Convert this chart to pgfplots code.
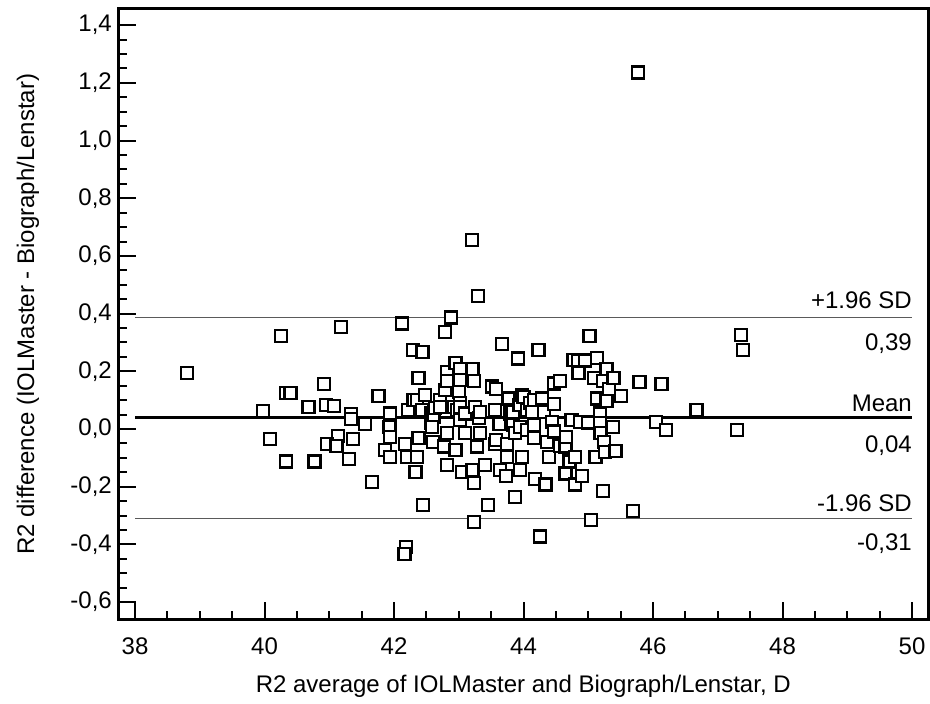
\documentclass[border=0pt]{standalone}
\usepackage{fontspec}
\setmainfont{Liberation Sans}
\usepackage{pgfplots}
\pgfplotsset{compat=1.18}
\definecolor{sdgray}{RGB}{90,90,90}

\pgfplotstableread{
x y
38.80 0.195
39.98 0.063
40.08 -0.034
40.25 0.323
40.33 -0.113
40.33 0.126
40.40 0.126
40.68 0.077
40.77 -0.113
40.92 0.156
40.95 0.084
41.07 0.080
41.13 -0.024
40.97 -0.053
41.11 -0.058
41.18 0.354
41.31 -0.105
41.34 0.051
41.34 0.034
41.37 -0.034
41.55 0.017
41.66 -0.183
41.76 0.114
41.86 -0.073
41.93 0.008
41.94 0.054
41.94 -0.027
41.94 -0.096
42.12 0.366
42.17 -0.052
42.20 -0.096
42.22 0.066
42.29 0.274
42.30 0.100
42.33 -0.148
42.36 0.100
42.36 -0.096
42.38 0.176
42.38 -0.032
42.43 0.066
42.44 0.266
42.45 -0.263
42.48 0.118
42.19 -0.408
42.16 -0.433
42.57 0.054
42.57 0.020
42.60 -0.044
42.61 0.043
42.59 0.008
42.63 0.072
42.71 0.100
42.71 0.077
42.77 -0.061
42.79 0.337
42.79 0.135
42.82 0.197
42.82 0.166
42.82 -0.015
42.82 -0.125
42.88 0.387
42.92 0.077
42.95 0.230
42.95 -0.073
42.97 0.066
43.00 0.129
43.02 0.207
43.02 0.170
43.02 0.089
43.02 0.077
43.02 0.031
43.05 -0.148
43.10 0.054
43.10 -0.015
43.20 0.655
43.21 0.207
43.21 -0.142
43.23 0.166
43.23 -0.186
43.24 -0.323
43.25 0.077
43.28 -0.061
43.30 0.460
43.31 0.037
43.33 0.060
43.33 -0.015
43.41 -0.125
43.45 -0.263
43.51 0.147
43.56 0.066
43.56 -0.052
43.57 0.138
43.58 -0.038
43.63 0.017
43.64 -0.142
43.67 0.295
43.73 -0.163
43.74 -0.052
43.74 -0.096
43.77 0.106
43.80 0.054
43.84 0.060
43.84 0.014
43.87 -0.015
43.87 -0.235
43.91 0.244
43.94 0.083
43.95 0.008
43.95 -0.142
43.98 0.118
43.98 -0.096
44.00 0.112
44.05 0.066
44.05 -0.003
44.10 0.089
44.13 0.060
44.16 0.100
44.16 0.014
44.16 -0.032
44.18 -0.174
44.23 0.274
44.26 -0.373
44.29 0.106
44.32 0.060
44.34 -0.192
44.36 -0.044
44.39 -0.096
44.44 0.025
44.47 0.158
44.47 0.087
44.47 -0.009
44.56 0.166
44.56 -0.059
44.65 -0.061
44.65 -0.154
44.66 -0.027
44.71 -0.113
44.74 0.031
44.77 0.239
44.80 -0.096
44.80 -0.192
44.84 0.237
44.85 0.195
44.87 0.025
44.90 -0.163
44.95 0.237
45.00 0.023
45.02 0.323
45.04 -0.315
45.09 0.176
45.11 -0.096
45.13 0.245
45.13 0.106
45.18 0.054
45.18 0.020
45.19 -0.015
45.23 0.166
45.23 -0.214
45.24 -0.044
45.26 -0.079
45.28 0.207
45.28 0.098
45.32 0.138
45.38 0.008
45.39 0.176
45.42 -0.075
45.51 0.114
45.69 -0.284
45.77 1.236
45.79 0.164
46.05 0.025
46.13 0.156
46.20 -0.003
46.67 0.066
47.30 -0.003
47.36 0.326
47.39 0.274
}\points

\begin{document}
\fontsize{24}{28}\selectfont
\begin{tikzpicture}
\begin{axis}[
    scale only axis,
    width=809.5pt,
    height=611.3pt,
    xmin=37.745, xmax=50.247,
    ymin=-0.662, ymax=1.457,
    axis line style={line width=3pt},
    tick align=inside,
    xtick pos=bottom,
    ytick pos=left,
    xtick={38,40,...,50},
    ytick={-0.6,-0.4,...,1.41},
    minor x tick num=3,
    minor y tick num=3,
    major tick length=17.5pt,
    minor tick length=9pt,
    tick style={line width=2pt, black},
    /pgf/number format/assume math mode=true,
    yticklabel style={/pgf/number format/fixed, /pgf/number format/fixed zerofill,
        /pgf/number format/precision=1, /pgf/number format/use comma,
        anchor=east, inner sep=0pt, xshift=-6.5pt},
    xticklabel style={anchor=base, inner sep=0pt, yshift=-35pt},
    xlabel={R2 average of IOLMaster and Biograph/Lenstar, D},
    ylabel={R2 difference (IOLMaster - Biograph/Lenstar)},
    xlabel style={at={(axis description cs:0.5,0)}, anchor=base, inner sep=0pt, yshift=-73pt},
    ylabel style={at={(axis description cs:0,0.5)}, anchor=center, inner sep=0pt, yshift=90.5pt},
]
\coordinate (sw) at (rel axis cs:0,0);
\coordinate (ne) at (rel axis cs:1,1);
\addplot[only marks, mark=square*, mark size=6pt, mark options={draw=black, fill=white, line width=2.3pt}] table[x=x, y=y] {\points};
\addplot[sdgray, line width=1.3pt] coordinates {(38,0.387) (50,0.387)};
\addplot[sdgray, line width=1.3pt] coordinates {(38,-0.310) (50,-0.310)};
\addplot[black, line width=3pt] coordinates {(38,0.039) (50,0.039)};
\node[anchor=base east, inner sep=0pt, yshift=9pt] at (axis cs:50,0.387) {+1.96 SD};
\node[anchor=base east, inner sep=0pt, yshift=-33pt] at (axis cs:50,0.387) {0,39};
\node[anchor=base east, inner sep=0pt, yshift=6pt] at (axis cs:50,0.039) {Mean};
\node[anchor=base east, inner sep=0pt, yshift=-35pt] at (axis cs:50,0.039) {0,04};
\node[anchor=base east, inner sep=0pt, yshift=7pt] at (axis cs:50,-0.310) {-1.96 SD};
\node[anchor=base east, inner sep=0pt, yshift=-32pt] at (axis cs:50,-0.310) {-0,31};
\end{axis}
\path ([shift={(-118.5pt,-84pt)}]sw) rectangle ([shift={(2pt,8.7pt)}]ne);
\end{tikzpicture}
\end{document}
